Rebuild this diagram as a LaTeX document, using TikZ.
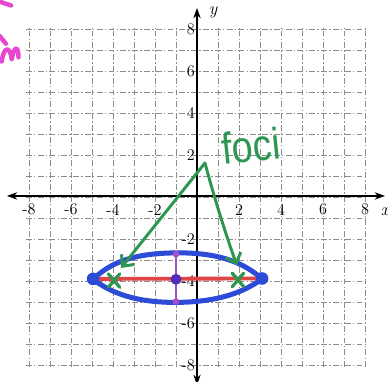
\documentclass[tikz,border=0pt]{standalone}
\usepackage{fontspec}
\newfontfamily\handfont[FakeStretch=0.85]{Liberation Sans}
\usetikzlibrary{arrows.meta}
\definecolor{ellblue}{RGB}{45,75,215}
\definecolor{majred}{RGB}{225,70,70}
\definecolor{minpurple}{RGB}{165,80,200}
\definecolor{dotpurple}{RGB}{80,45,180}
\definecolor{focigreen}{RGB}{45,150,80}
\definecolor{pinkink}{RGB}{230,70,210}
\definecolor{gridgray}{RGB}{140,140,140}
\begin{document}
\begin{tikzpicture}[x=0.5cm,y=0.5cm,
  gridline/.style={gridgray,line width=0.45pt,dash pattern=on 4pt off 1.5pt on 1pt off 1.5pt},
  axis/.style={black,line width=0.8pt},
  ticklab/.style={font=\fontsize{11}{11}\selectfont,inner sep=1pt},
  ellline/.style={ellblue,line width=3.4pt,line cap=round,line join=round},
  majline/.style={majred,line width=2.6pt,line cap=round},
  minline/.style={minpurple,line width=1.8pt,line cap=round},
  greenline/.style={focigreen,line width=2pt,line cap=round,line join=round},
  xmark/.style={focigreen,line width=2.2pt,line cap=round},
  pinkline/.style={pinkink,line width=3pt,line cap=round,line join=round}]
\useasboundingbox[fill=white] (-9.381,-8.762) rectangle (9.095,9.381);
% grid
\foreach \i in {-8,...,8} {
  \draw[gridline] (\i,-8.1) -- (\i,8.05);
  \draw[gridline] (-8.15,\i) -- (8.1,\i);
}
% axes
\coordinate (xa1) at (-9.05,0.05);
\coordinate (xa2) at (8.95,0.05);
\coordinate (ya1) at (0,-8.95);
\coordinate (ya2) at (0,9.0);
\draw[axis,{Stealth[length=7pt,width=5pt]}-{Stealth[length=7pt,width=5pt]}] (xa1) -- (xa2);
\draw[axis,{Stealth[length=7pt,width=5pt]}-{Stealth[length=7pt,width=5pt]}] (ya1) -- (ya2);
\node[font=\fontsize{12}{12}\selectfont\itshape] (xlab) at (8.95,-0.7) {x};
\node[font=\fontsize{12}{12}\selectfont\itshape] (ylab) at (0.76,8.8) {y};
% tick labels
\foreach \v/\n in {-8/m8,-6/m6,-4/m4,-2/m2,2/p2,4/p4,6/p6,8/p8} {
  \node[ticklab] (xl\n) at (\v,-0.6) {\v};
  \node[ticklab,anchor=east] (yl\n) at (-0.02,\v) {\v};
}
% ellipse
\draw[ellline] (-4.95,-3.92) .. controls (-4.1,-3.1) and (-3,-2.68) .. (-1,-2.66)
  .. controls (1,-2.64) and (2.2,-3.1) .. (3.1,-3.9)
  .. controls (2.2,-4.55) and (1,-5.0) .. (-1,-5.02)
  .. controls (-3,-5.02) and (-4.1,-4.55) .. (-4.95,-3.92) -- cycle;
% major axis
\coordinate (vl) at (-4.95,-3.9);
\coordinate (vr) at (3.1,-3.88);
\draw[majline] (vl) -- (vr);
% minor axis
\coordinate (mt) at (-1,-2.72);
\coordinate (mb) at (-1,-4.98);
\coordinate (ctr) at (-1,-3.92);
\draw[minline] (mt) -- (mb);
\fill[minpurple] (mt) circle (0.16);
\fill[minpurple] (mb) circle (0.16);
\fill[dotpurple] (ctr) circle (0.26);
\fill[ellblue] (vl) circle (0.3);
\fill[ellblue] (vr) circle (0.3);
% foci
\coordinate (f1) at (-3.95,-3.98);
\coordinate (f2) at (1.95,-3.95);
\draw[xmark] (f1) +(-0.27,0.32) -- +(0.27,-0.32) (f1) +(-0.27,-0.32) -- +(0.27,0.32);
\draw[xmark] (f2) +(-0.27,0.32) -- +(0.27,-0.32) (f2) +(-0.27,-0.32) -- +(0.27,0.32);
% label and arrows
\node[focigreen,font=\handfont\fontsize{30}{30}\selectfont,rotate=6,inner sep=0pt] (foci) at (2.55,2.45) {foci};
\coordinate (apex) at (0.38,1.62);
\coordinate (tipL) at (-3.62,-3.38);
\coordinate (tipR) at (1.9,-3.25);
\draw[greenline,-{Straight Barb[length=6pt,width=11pt,line width=2pt]}] (apex) -- (tipL);
\draw[greenline,-{Straight Barb[length=6pt,width=11pt,line width=2pt]}] (apex) .. controls (0.7,0.4) and (1.3,-1.6) .. (tipR);
% pink fragments at the margin
\draw[pinkline] (-9.4,9.3) -- (-8.85,9.12);
\draw[pinkline] (-9.4,7.67) -- (-9.1,7.3);
\draw[pinkline] (-9.3,6.45) .. controls (-9.2,7.2) and (-8.9,7.2) .. (-8.82,6.55)
  .. controls (-8.7,7.25) and (-8.5,7.2) .. (-8.5,6.65);
\end{tikzpicture}
\end{document}
